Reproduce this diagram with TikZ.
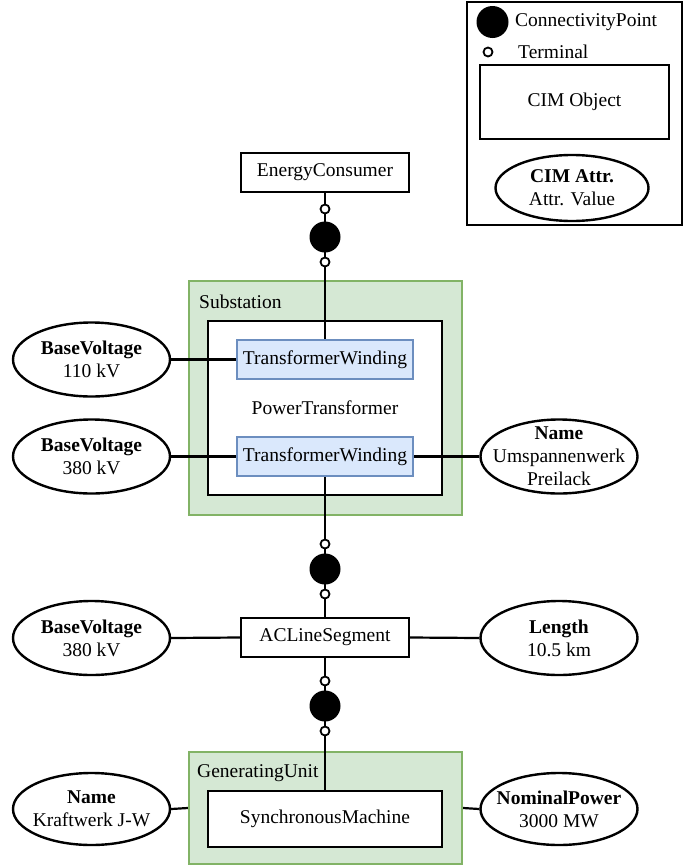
\documentclass[tikz,border=0pt]{standalone}
\usepackage{fontspec}
\setmainfont{Liberation Serif}
\usetikzlibrary{shapes.geometric}
\definecolor{groupfill}{HTML}{D5E8D4}
\definecolor{groupdraw}{HTML}{82B366}
\definecolor{windfill}{HTML}{DAE8FC}
\definecolor{winddraw}{HTML}{6C8EBF}
\begin{document}
\begin{tikzpicture}
	[	x=1pt,y=-1pt,
		font=\fontsize{19.5}{23}\selectfont,
		obj/.style={rectangle,draw=black,fill=white,line width=2.4pt,minimum width=168pt,minimum height=39pt,inner sep=0pt},
		winding/.style={rectangle,draw=winddraw,fill=windfill,line width=2.4pt,minimum width=176pt,minimum height=39pt,inner sep=0pt},
		group/.style={rectangle,draw=groupdraw,fill=groupfill,line width=2.2pt,minimum width=273pt,inner sep=0pt},
		attr/.style={ellipse,draw=black,fill=white,line width=2.4pt,minimum width=157pt,minimum height=74pt,inner sep=0pt},
		attrtext/.style={align=center,inner sep=0pt},
		cp/.style={circle,fill=black,minimum size=31pt,inner sep=0pt},
		term/.style={circle,draw=black,fill=white,line width=1.8pt,minimum size=9pt,inner sep=0pt},
		wire/.style={line width=2.2pt},
		plain/.style={draw=none,fill=none,inner sep=0pt}
	]
	\useasboundingbox (0,0) rectangle (697,865);

	% legend
	\node[rectangle,draw=black,line width=2.4pt,minimum width=215pt,minimum height=223pt] (legend) at (574.5,113.5) {};
	\node[cp,minimum size=32pt] (keycp) at (492.5,22) {};
	\node[plain,anchor=west] (keycptext) at (515,22) {ConnectivityPoint};
	\node[term] (keyterm) at (488,52) {};
	\node[plain,anchor=west] (keytermtext) at (518,52) {Terminal};
	\node[obj,minimum width=189pt,minimum height=74pt] (keyobj) at (574.5,102) {CIM Object};
	\node[attr,minimum width=153pt,minimum height=66pt,label={[attrtext]center:{\textbf{CIM Attr.}\\Attr. Value}}] (keyattr) at (572,188) {};

	% containers
	\node[group,minimum height=234pt] (sub) at (325.5,398) {};
	\node[plain,anchor=west] (subtext) at (199,302) {Substation};
	\node[obj,minimum width=234pt,minimum height=174pt,label={[plain]center:PowerTransformer}] (pt) at (325,408) {};
	\node[group,minimum height=112pt] (gen) at (325.5,808) {};
	\node[plain,anchor=west] (gentext) at (197,773) {GeneratingUnit};

	% objects
	\node[obj] (ec) at (325,172.5) {EnergyConsumer};
	\node[winding] (tw1) at (325,359.5) {TransformerWinding};
	\node[winding] (tw2) at (325,456.5) {TransformerWinding};
	\node[obj] (acl) at (325,637.5) {ACLineSegment};
	\node[obj,minimum width=234pt,minimum height=56pt] (sm) at (325,819) {SynchronousMachine};

	% attributes
	\node[attr,label={[attrtext]center:{\textbf{BaseVoltage}\\110 kV}}] (bvhigh) at (91.5,359.5) {};
	\node[attr,label={[attrtext]center:{\textbf{BaseVoltage}\\380 kV}}] (bvlow) at (91.5,456.5) {};
	\node[attr,label={[attrtext]center:{\textbf{Name}\\Umspannenwerk\\Preilack}}] (subname) at (559,456.5) {};
	\node[attr,label={[attrtext]center:{\textbf{BaseVoltage}\\380 kV}}] (bvline) at (91.5,638) {};
	\node[attr,label={[attrtext]center:{\textbf{Length}\\10.5 km}}] (len) at (559,638) {};
	\node[attr,minimum height=72pt,label={[attrtext]center:{\textbf{Name}\\Kraftwerk J-W}}] (genname) at (91.5,809) {};
	\node[attr,minimum height=72pt,label={[attrtext]center:{\textbf{NominalPower}\\3000 MW}}] (power) at (559,809) {};

	% wires
	\draw[wire] (ec.south) -- (tw1.north);
	\draw[wire] (tw2.south) -- (acl.north);
	\draw[wire] (acl.south) -- (sm.north);
	\draw[wire] (bvhigh.east) -- (tw1.west);
	\draw[wire] (bvlow.east) -- (tw2.west);
	\draw[wire] (tw2.east) -- (subname.west);
	\draw[wire] (bvline.east) -- (acl.west);
	\draw[wire] (acl.east) -- (len.west);
	\draw[wire] (genname.east) -- (gen.west);
	\draw[wire] (gen.east) -- (power.west);

	% connectivity points and terminals
	\node[term] (t1) at (325,209) {};
	\node[cp] (cp1) at (325,237) {};
	\node[term] (t2) at (325,262) {};
	\node[term] (t3) at (325,544) {};
	\node[cp] (cp2) at (325,569) {};
	\node[term] (t4) at (325,594) {};
	\node[term] (t5) at (325,681) {};
	\node[cp] (cp3) at (325,706) {};
	\node[term] (t6) at (325,731) {};
\end{tikzpicture}
\end{document}
